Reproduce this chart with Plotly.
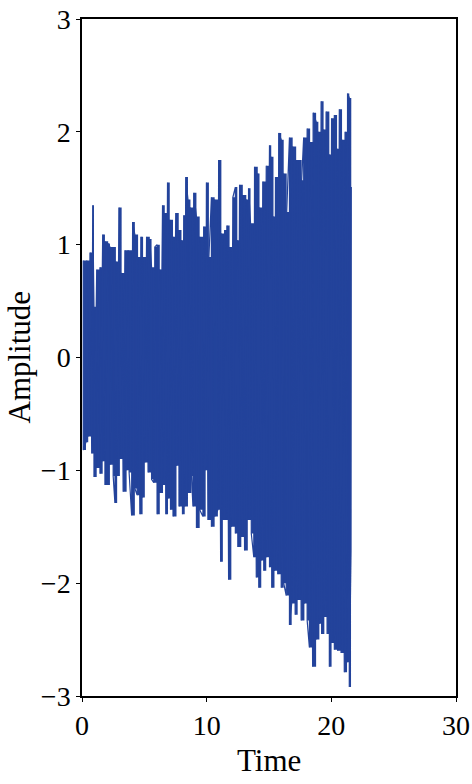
import plotly.graph_objects as go

# Upper peak times and amplitudes
t_up = [0.10, 0.38, 0.64, 0.86, 0.96, 1.18, 1.44, 1.66, 1.84, 2.10, 2.24, 2.50, 2.72, 2.96, 3.18,
        3.44, 3.70, 4.06, 4.24, 4.50, 4.72, 4.90, 5.18, 5.44, 5.58, 5.84, 6.02, 6.24, 6.46, 6.64,
        6.86, 7.04, 7.30, 7.52, 7.76, 7.98, 8.16, 8.32, 8.50, 8.70, 8.96, 9.18, 9.44, 9.76, 9.98,
        10.18, 10.38, 10.64, 10.96, 11.18, 11.44, 11.62, 11.84, 12.10, 12.30, 12.46, 12.64, 12.90,
        13.18, 13.36, 13.52, 13.84, 14.10, 14.24, 14.50, 14.78, 15.04, 15.18, 15.36, 15.52, 15.78,
        15.98, 16.18, 16.42, 16.64, 16.90, 17.18, 17.44, 17.62, 17.78, 18.06, 18.30, 18.54, 18.78,
        18.96, 19.18, 19.38, 19.58, 19.84, 20.02, 20.24, 20.46, 20.64, 20.86, 21.10, 21.30, 21.44,
        21.60]
a_up = [0.86, 0.86, 0.93, 1.35, 0.45, 0.78, 0.80, 1.09, 1.03, 1.01, 0.98, 0.98, 0.85, 1.33, 0.75,
        0.95, 0.95, 1.20, 1.09, 0.89, 1.07, 0.89, 1.07, 1.05, 0.80, 0.98, 1.00, 0.78, 1.35, 1.28,
        1.55, 1.22, 1.07, 1.28, 1.13, 1.04, 1.26, 1.60, 1.40, 1.33, 1.46, 1.25, 1.07, 1.16, 1.55,
        0.89, 1.42, 1.40, 1.75, 1.10, 1.13, 1.17, 0.98, 1.42, 1.51, 1.04, 1.53, 1.44,
        1.40, 1.50, 1.19, 1.69, 1.63, 1.33, 1.56, 1.70, 1.88, 1.78, 1.25, 1.60, 1.99,
        1.93, 1.63, 1.29, 1.95, 1.87, 1.75, 1.75, 1.57, 1.95, 2.03, 1.91, 2.17, 2.09,
        2.00, 2.27, 2.02, 2.18, 1.80, 2.12, 2.15, 1.85, 2.20, 1.93, 2.00, 2.34, 2.30,
        1.51]

# Lower peak times and amplitudes
t_lo = [0.10, 0.32, 0.50, 0.78, 0.96, 1.18, 1.44, 1.66, 1.84, 2.24, 2.50, 2.64, 2.82, 3.04, 3.30,
        3.58, 3.78, 3.98, 4.24, 4.42, 4.64, 4.86, 5.04, 5.30, 5.58, 5.76, 6.02, 6.24, 6.50, 6.72,
        6.90, 7.10, 7.30, 7.58, 7.78, 8.06, 8.24, 8.50, 8.78, 8.90, 9.18, 9.44, 9.70, 9.92, 10.10,
        10.38, 10.64, 10.90, 11.12, 11.30, 11.58, 11.76, 11.98, 12.30, 12.50, 12.78, 13.04, 13.30,
        13.58, 13.78, 13.98, 14.18, 14.38, 14.58, 14.78, 15.04, 15.22, 15.44, 15.70, 15.98, 16.18,
        16.38, 16.64, 16.82, 17.10, 17.30, 17.58, 17.84, 18.06, 18.24, 18.50, 18.78, 19.04, 19.22,
        19.44, 19.66, 19.84, 20.02, 20.24, 20.50, 20.78, 21.04, 21.26, 21.44, 21.58]
a_lo = [-0.82, -0.75, -0.70, -0.85, -1.06, -0.98, -1.03, -0.92, -1.13, -0.95, -1.05, -1.29, -1.05,
        -0.90, -1.19, -1.00, -1.02, -1.40, -1.16, -1.22, -1.39, -1.24, -0.93, -1.02, -1.08, -1.11,
        -1.39, -1.20, -1.13, -1.39, -1.25, -1.35, -1.41, -0.96, -1.32, -1.39, -1.32, -1.20, -1.05,
        -1.32, -1.51, -1.35, -1.41, -1.00, -1.44, -1.50, -1.41, -1.35, -1.81, -1.44, -1.44, -1.97,
        -1.50, -1.56, -1.68, -1.59, -1.71, -1.44, -1.56, -1.77, -1.95, -2.04, -1.80, -1.89, -1.77,
        -1.86, -2.04, -1.89, -1.92, -2.04, -2.00, -2.11, -2.37, -2.18, -2.28, -2.15, -2.33, -2.18,
        -2.33, -2.57, -2.74, -2.50, -2.36, -2.45, -2.30, -2.45, -2.74, -2.53, -2.59, -2.60, -2.62,
        -2.79, -2.70, -2.92, -1.71]

x_ticks = [0, 10, 20, 30]
y_ticks = [-3, -2, -1, 0, 1, 2, 3]

BLUE = "#23439b"

# Merge the peaks into one oscillating signal, ordered by time
pts = [(t, 0, a) for t, a in zip(t_up, a_up)] + [(t, 1, a) for t, a in zip(t_lo, a_lo)]
pts.sort()
sig_t = [p[0] for p in pts]
sig_a = [p[2] for p in pts]

fig = go.Figure()
# dense body of the oscillation: band between negative and positive excursions
fig.add_trace(go.Scatter(x=t_lo, y=a_lo, mode="lines", line=dict(color=BLUE, width=0, shape="hv"),
                         showlegend=False, hoverinfo="skip"))
fig.add_trace(go.Scatter(x=t_up, y=a_up, mode="lines", line=dict(color=BLUE, width=0, shape="hv"),
                         fill="tonexty", fillcolor=BLUE, showlegend=False, hoverinfo="skip"))
# oscillating trace
fig.add_trace(go.Scatter(x=sig_t, y=sig_a, mode="lines",
                         line=dict(color=BLUE, width=1.2), showlegend=False))

font = "Liberation Serif, Times New Roman, serif"
axis_common = dict(showline=True, linecolor="black", linewidth=1.5, mirror=True,
                   ticks="outside", ticklen=4, tickwidth=1.2, tickcolor="black",
                   showgrid=False, zeroline=False, automargin=False,
                   tickfont=dict(family=font, size=28, color="black"))

fig.update_layout(
    width=472, height=784,
    margin=dict(l=82, r=16, t=19, b=88),
    plot_bgcolor="white", paper_bgcolor="white",
    xaxis=dict(range=[0, 30], tickvals=x_ticks, **axis_common),
    yaxis=dict(range=[-3, 3], tickvals=y_ticks, **axis_common),
    annotations=[
        dict(text="Time", xref="paper", yref="paper", x=0.5, y=0, xanchor="center",
             yanchor="middle", yshift=-64, showarrow=False,
             font=dict(family=font, size=31, color="black")),
        dict(text="Amplitude", xref="paper", yref="paper", x=0, y=0.5, xanchor="center",
             yanchor="middle", xshift=-63, textangle=-90, showarrow=False,
             font=dict(family=font, size=31, color="black")),
    ],
)

fig.write_html("out.html", config={"displayModeBar": False},
               post_script="document.body.style.margin='0px';")
